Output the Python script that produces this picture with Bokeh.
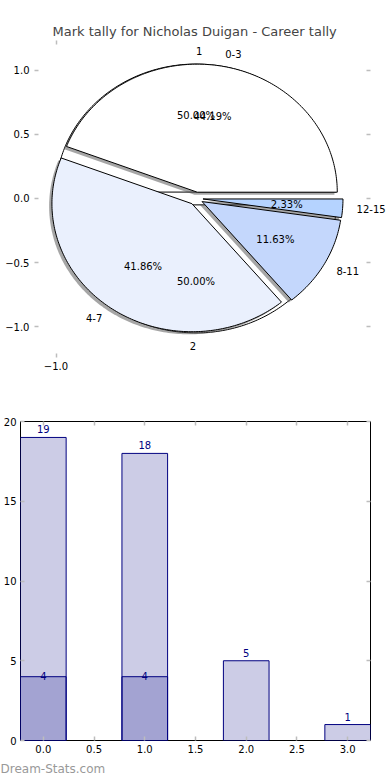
import numpy as np
from bokeh.plotting import figure
from bokeh.models import LinearAxis, FixedTicker, Range1d, CustomJSTickFormatter, Title
from bokeh.core.properties import value
from bokeh.embed import file_html
from bokeh.resources import INLINE

# ---------------- data ----------------
title_text = "Mark tally for Nicholas Duigan - Career tally"
groups = ["0-3", "4-7", "8-11", "12-15"]
group_tally = [19, 18, 5, 1]
group_colors = ["#ffffff", "#eaf0fd", "#c4d7fc", "#b5d3ff"]
sub_labels = ["1", "2"]
sub_tally = [4, 4]
sub_colors = ["#ffffff", "#ffffff"]

bar_positions = [0, 1, 2, 3]
bar_values = [19, 18, 5, 1]
sub_bar_positions = [0, 1]
sub_bar_values = [4, 4]

pie_yticks = [-1.0, -0.5, 0.0, 0.5, 1.0]
pie_xticks = [-1.0]
bar_xticks = [0.0, 0.5, 1.0, 1.5, 2.0, 2.5, 3.0]
bar_yticks = [0, 5, 10, 15, 20]
watermark = "Dream-Stats.com"

FONT = "DejaVu Sans"
VFONT = value(FONT)
TICK_COLOR = "#bdbdbd"
EXPLODE = 0.05
LABEL_DIST = 1.1
PCT_DIST = 0.6
SHADOW_DX, SHADOW_DY = -0.02, -0.02


def pie_layout(values):
    total = float(sum(values))
    theta1 = 0.0
    out = dict(xs=[], ys=[], lx=[], ly=[], px=[], py=[], pct=[], left=[])
    for v in values:
        frac = v / total
        theta2 = theta1 + frac * 360.0
        mid = np.deg2rad((theta1 + theta2) / 2.0)
        cx, cy = EXPLODE * np.cos(mid), EXPLODE * np.sin(mid)
        ang = np.deg2rad(np.linspace(theta1, theta2, max(int(frac * 360), 2) + 1))
        out["xs"].append([cx] + list(cx + np.cos(ang)) + [cx])
        out["ys"].append([cy] + list(cy + np.sin(ang)) + [cy])
        out["lx"].append(cx + LABEL_DIST * np.cos(mid))
        out["ly"].append(cy + LABEL_DIST * np.sin(mid))
        out["px"].append(cx + PCT_DIST * np.cos(mid))
        out["py"].append(cy + PCT_DIST * np.sin(mid))
        out["pct"].append("%.2f%%" % (frac * 100))
        out["left"].append(np.cos(mid) > 0)
        theta1 = theta2
    return out


def fmt(v, decimals):
    s = ("%%.%df" % decimals) % v
    return s.replace("-", "\u2212")


def style_axis(ax, labels=True):
    ax.axis_line_color = None
    ax.major_tick_in = 4
    ax.major_tick_out = 0
    ax.minor_tick_in = 0
    ax.minor_tick_out = 0
    ax.major_tick_line_color = TICK_COLOR
    ax.major_tick_line_width = 1.5
    ax.minor_tick_line_color = None
    ax.major_label_text_font = FONT
    ax.major_label_text_font_size = "10px"
    ax.major_label_text_color = "#000000"
    ax.axis_label = None
    if not labels:
        ax.formatter = CustomJSTickFormatter(code="return ''")
        ax.major_label_standoff = 0


def add_texts(p, xs, ys, texts, left_flags):
    for flag, align in ((True, "left"), (False, "right")):
        idx = [i for i, f in enumerate(left_flags) if f == flag]
        if not idx:
            continue
        p.text([xs[i] for i in idx], [ys[i] for i in idx], text=[texts[i] for i in idx],
               text_align=align, text_baseline="middle", text_font=VFONT,
               text_font_size="10px", text_color="#000000")


# ---------------- pie figure ----------------
FL = 34            # frame left (px)
FW = 390 - FL      # frame runs to the right edge so outer labels are not clipped
PX = 140.0         # px per unit horizontally
CX = 195.5         # pixel of x = 0
RIGHT_PX = 369.5   # where the right-hand ticks sit
x0 = -(CX - FL) / PX
x1 = x0 + FW / PX
x_right = (RIGHT_PX - CX) / PX

p1 = figure(frame_width=FW, frame_height=317,
            x_range=Range1d(x0, x1), y_range=Range1d(-1.242, 1.234),
            output_backend="svg", toolbar_location=None,
            min_border_left=FL, min_border_right=0,
            min_border_top=40, min_border_bottom=24,
            title=title_text)
p1.title.align = "left"
p1.title.offset = 52 - FL
p1.title.standoff = 4
p1.title.text_font = FONT
p1.title.text_font_size = "13px"
p1.title.text_font_style = "normal"
p1.outline_line_color = None
p1.grid.visible = False

p1.xaxis.ticker = FixedTicker(ticks=pie_xticks)
p1.xaxis.major_label_overrides = {t: fmt(t, 1) for t in pie_xticks}
p1.yaxis.ticker = FixedTicker(ticks=pie_yticks)
p1.yaxis.major_label_overrides = {t: fmt(t, 1) for t in pie_yticks}
style_axis(p1.xaxis[0])
style_axis(p1.yaxis[0])
p1.yaxis.major_label_standoff = 5
p1.xaxis.major_label_standoff = 4
top1 = LinearAxis(ticker=FixedTicker(ticks=pie_xticks))
right1 = LinearAxis(ticker=FixedTicker(ticks=pie_yticks), fixed_location=x_right)
style_axis(top1, labels=False)
style_axis(right1, labels=False)
p1.add_layout(top1, "above")
p1.add_layout(right1, "right")

sub = pie_layout(sub_tally)
main = pie_layout(group_tally)

# underlying pie (1 / 2)
p1.patches(sub["xs"], sub["ys"], fill_color=sub_colors, line_color="black", line_width=1)
# shadows of the main pie
p1.patches([[x + SHADOW_DX for x in xs] for xs in main["xs"]],
           [[y + SHADOW_DY for y in ys] for ys in main["ys"]],
           fill_color="#4d4d4d", fill_alpha=0.5, line_color=None)
# main pie
p1.patches(main["xs"], main["ys"], fill_color=group_colors, line_color="black", line_width=1)

add_texts(p1, sub["lx"], sub["ly"], sub_labels, sub["left"])
p1.text(sub["px"], sub["py"], text=sub["pct"], text_align="center", text_baseline="middle",
        text_font=VFONT, text_font_size="10px", text_color="#000000")
add_texts(p1, main["lx"], main["ly"], groups, main["left"])
p1.text(main["px"], main["py"], text=main["pct"], text_align="center", text_baseline="middle",
        text_font=VFONT, text_font_size="10px", text_color="#000000")

# ---------------- bar figure ----------------
FL2 = 20
FW2 = 350
p2 = figure(frame_width=FW2, frame_height=319,
            x_range=Range1d(-0.225, 3.225), y_range=Range1d(0, 20),
            output_backend="svg", toolbar_location=None,
            min_border_left=FL2, min_border_right=390 - FL2 - FW2,
            min_border_top=40, min_border_bottom=40)
p2.outline_line_color = "black"
p2.outline_line_width = 1
p2.grid.visible = False
p2.xaxis.ticker = FixedTicker(ticks=bar_xticks)
p2.xaxis.major_label_overrides = {t: fmt(t, 1) for t in bar_xticks}
p2.yaxis.ticker = FixedTicker(ticks=bar_yticks)
p2.yaxis.major_label_overrides = {t: fmt(t, 0) for t in bar_yticks}
style_axis(p2.xaxis[0])
style_axis(p2.yaxis[0])
p2.yaxis.major_label_standoff = 4
p2.xaxis.major_label_standoff = 4
top2 = LinearAxis(ticker=FixedTicker(ticks=bar_xticks))
right2 = LinearAxis(ticker=FixedTicker(ticks=bar_yticks))
style_axis(top2, labels=False)
style_axis(right2, labels=False)
p2.add_layout(top2, "above")
p2.add_layout(right2, "right")

p2.vbar(x=bar_positions, top=bar_values, width=0.45, fill_color="navy", fill_alpha=0.2,
        line_color="navy", line_width=1)
p2.vbar(x=sub_bar_positions, top=sub_bar_values, width=0.45, fill_color="navy", fill_alpha=0.2,
        line_color="navy", line_width=1)
p2.text(bar_positions, bar_values, text=[str(v) for v in bar_values], text_align="center",
        text_baseline="bottom", y_offset=-4, text_font=VFONT, text_font_size="10px",
        text_color="navy")
p2.text(sub_bar_positions, sub_bar_values, text=[str(v) for v in sub_bar_values], text_align="center",
        text_baseline="middle", y_offset=-1, text_font=VFONT, text_font_size="10px",
        text_color="navy")

p2.add_layout(Title(text=watermark, align="left", offset=-FL2, standoff=9,
                    text_font=FONT, text_font_size="12px", text_font_style="normal",
                    text_color="#999999"), "below")

open("out.html", "w").write(file_html([p1, p2], INLINE))
